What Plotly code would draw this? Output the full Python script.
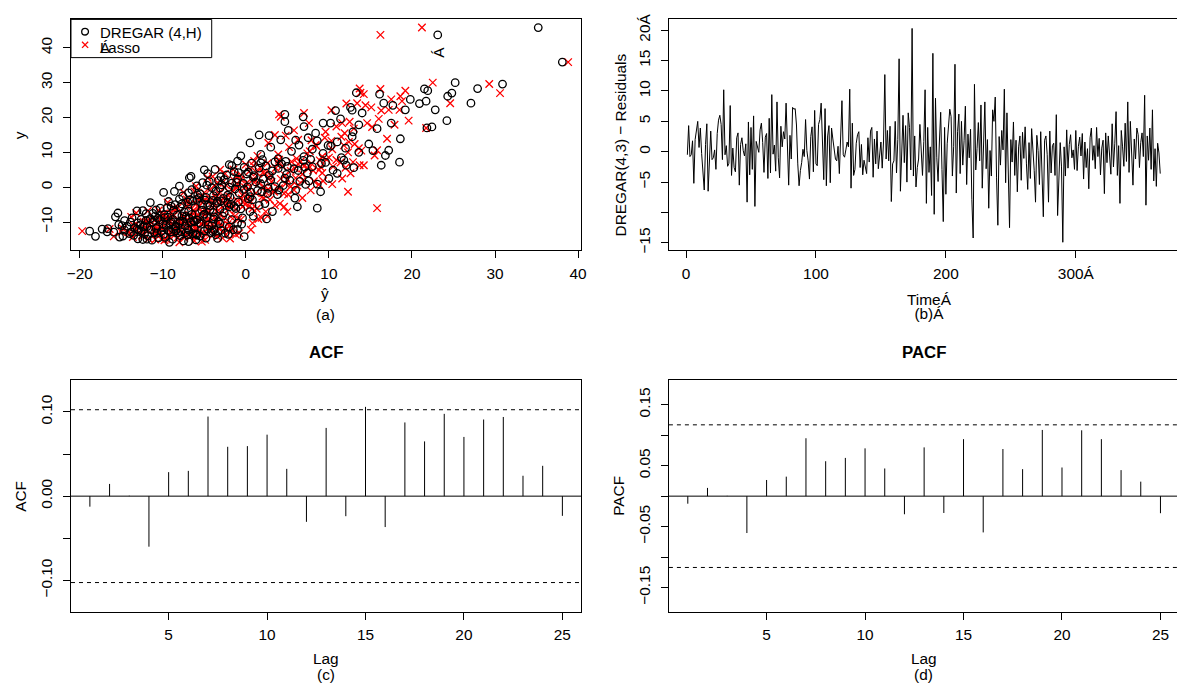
import plotly.graph_objects as go

W, H = 1182, 687
FONT = "Liberation Sans, Arial, sans-serif"
FS = 15.4


def px(x):
    return x / W


def py(y):
    return 1 - y / H


# ---------------- (a) observed y vs fitted y-hat ----------------
y_obs = [
    -15.8, -15.4, -15.1, -14.9, -14.8, -14.6, -14.5, -14.3, -14.2, -14.1,
    -14.0, -13.9, -13.8, -13.7, -13.6, -13.5, -13.4, -13.3, -13.3, -13.2,
    -13.1, -13.0, -13.0, -12.9, -12.8, -12.8, -12.7, -12.6, -12.6, -12.5,
    -12.4, -12.4, -12.3, -12.3, -12.2, -12.2, -12.1, -12.0, -12.0, -12.0,
    -15.6, -15.2, -14.7, -14.4, -14.0, -13.7, -13.5, -13.2, -13.0, -12.9,
    -12.7, -12.5, -12.3, -12.1, -14.9, -13.4, -12.8, -12.2, -15.0, -13.9,
    -11.9, -11.8, -11.7, -11.6, -11.5, -11.4, -11.3, -11.2, -11.1, -11.0,
    -10.9, -10.8, -10.7, -10.6, -10.5, -10.4, -10.3, -10.2, -10.1, -10.0,
    -9.9, -9.8, -9.7, -9.6, -9.5, -9.4, -9.3, -9.2, -9.1, -9.0,
    -8.9, -8.8, -8.7, -8.6, -8.5, -8.4, -8.3, -8.2, -8.1, -8.0,
    -11.4, -10.6, -9.8, -9.1, -8.7,
    -11.8, -11.3, -10.9, -10.4, -10.0, -9.6, -9.3, -8.9, -8.5, -8.2,
    -11.6, -11.0, -10.2, -9.5, -8.8, -11.2, -10.5, -9.9, -9.2, -8.3,
    -7.9, -7.7, -7.5, -7.3, -7.1, -7.0, -6.8, -6.6, -6.4, -6.2,
    -6.0, -5.8, -5.6, -5.4, -5.2, -5.0, -4.8, -4.6, -4.4, -4.2,
    -4.0, -3.8, -3.6, -3.4, -3.2, -3.0, -7.4, -6.9, -6.3, -5.9,
    -5.5, -5.1, -4.7, -4.3, -3.9, -3.5, -3.1, -6.7, -4.9, -3.7,
    -6.0, -1.3, -5.6,
    -7.8, -7.2, -6.5, -6.1, -5.7, -5.3, -4.5, -4.1, -3.3, -7.6,
    -6.6, -5.0, -4.0, -3.6, -7.0,
    -2.9, -2.7, -2.5, -2.3, -2.1, -1.9, -1.7, -1.5, -1.3, -1.1,
    -0.9, -0.7, -0.5, -0.3, -0.1, 0.1, 0.3, 0.5, 0.7, 0.9,
    1.1, 1.3, 1.5, 1.7, 1.9, 2.1, 2.3, 2.5, 2.7, 2.9,
    -2.4, -1.6, -0.8, 0.0, 0.8, 1.6, 2.4, -1.0, 1.2, 2.0,
    -2.8, -2.2, -1.8, -1.2, -0.6, -0.2, 0.2, 0.6, 1.0, 1.4,
    1.8, 2.2, 2.6, -1.4, 0.4,
    3.1, 3.3, 3.5, 3.7, 3.9, 4.1, 4.3, 4.5, 4.7, 4.9,
    5.1, 5.3, 5.5, 5.7, 5.9, 6.1, 6.3, 6.5, 6.7, 6.9,
    7.1, 7.3, 7.5, 7.7, 7.9, 3.0, 4.0, 5.0, 6.0, 7.0,
    8.0, 5.6, 6.3, 7.2,
    3.4, 4.2, 4.8, 5.4, 6.2, 6.8, 7.4, 7.8, 3.8, 5.8,
    8.2, 8.5, 8.8, 9.1, 9.4, 9.7, 10.0, 10.3, 10.6, 10.9,
    11.2, 11.5, 11.8, 12.1, 12.4, 12.7, 13.0, 13.3, 13.6, 13.9,
    14.2, 14.5, 14.8, 9.0, 10.5, 12.0, 13.5, 15.0,
    15.5, 15.9, 16.3, 16.8, 17.0, 17.3, 17.4, 17.9, 18.4, 18.4,
    18.4, 18.8, 19.1, 19.6, 20.2, 20.9, 21.3, 22.0, 22.1, 22.2,
    22.2, 22.9, 23.5, 24.0, 24.1, 24.1, 24.7, 25.2, 26.1, 26.7,
    27.0, 27.1, 27.7, 28.2, 28.3,
    29.6, 30.0, 35.9, 43.7, 45.8,
]

yhat_dregar = [
    -9.2, -7.5, -6.0, -8.8, -13.0, -4.8, -10.5, -15.2, -0.2, -18.1,
    -5.5, -11.8, -13.5, -7.0, -3.6, -9.9, -12.2, -14.0, -6.4, -2.5,
    -8.2, -11.0, -4.2, -13.8, -16.7, -7.8, -10.2, -18.8, -5.0, -12.6,
    -9.3, -3.0, -14.6, -6.9, -11.4, -1.5, -8.7, -17.3, -13.1, -4.6,
    -6.9, -11.3, -3.4, -9.7, -14.8, -5.9, -2.1, -10.7, -7.2, -15.9,
    -4.0, -8.4, -12.9, -1.0, -11.9, -6.0, -9.0, -3.8, -12.4, -7.9,
    -16.6, -10.8, -6.2, -13.4, -8.5, -2.0, -11.9, -14.3, -7.3, -4.1,
    -9.6, -12.7, -15.3, -5.4, -10.0, -8.0, -1.0, -13.0, -6.6, -11.2,
    -9.0, -3.3, -7.9, -14.6, -12.0, -5.9, -10.4, -8.8, 2.5, -11.5,
    -6.8, -13.7, -4.7, -9.4, -15.7, -7.2, -2.8, -10.9, -5.1, -8.3,
    -12.4, -0.5, -7.6, -3.9, -9.8,
    -7.0, -12.2, -4.5, -9.1, -13.9, -6.3, -1.7, -10.6, -3.8, -7.7,
    -9.9, -14.9, -5.6, -11.0, -0.4, -8.4, -3.1, -6.2, -12.6, 0.9,
    -9.8, -5.0, -11.2, -2.6, -7.4, 3.2, -13.1, -8.7, -4.3, -0.6,
    -10.3, -6.1, -2.0, -9.0, 1.6, -5.2, -7.7, -3.5, -11.5, -0.9,
    -6.4, -4.0, 0.8, -8.0, -2.7, -5.6, -15.4, -6.9, -3.1, -9.5,
    -1.4, -4.6, 2.3, -7.0, -3.0, -5.9, 5.9, -12.4, -1.8, -4.9,
    8.6, 9.0, 6.2,
    -6.5, -3.9, -10.8, -1.2, -7.9, -4.3, -2.2, -9.3, 0.3, -12.0,
    -5.3, -8.5, -3.4, -6.7, 0.5,
    -4.8, 0.5, -7.6, -2.2, 3.8, -5.5, -0.8, -9.9, 1.9, -3.6,
    6.0, -6.5, -1.3, 2.7, -4.1, 0.2, -8.0, 4.5, -2.9, 8.6,
    -0.3, -5.2, 1.2, 6.5, -3.3, 3.0, -1.0, 10.0, -6.8, 0.9,
    -3.9, -6.9, 4.0, -2.0, 7.2, -4.4, 2.1, 1.4, -1.7, 5.3,
    -1.9, -5.8, 2.6, -8.6, -0.2, -3.1, 3.5, -4.7, 1.8, -1.1,
    7.6, -2.6, 4.7, 0.6, -5.9,
    -6.6, 1.0, -2.3, 4.9, -4.6, 7.4, 0.3, -1.4, 3.2, 10.5,
    -3.7, 5.8, 1.6, -0.2, 8.0, 2.4, 12.1, -2.0, 4.3, 0.7,
    9.6, 3.5, -1.0, 6.9, 2.0, -3.0, 11.0, -5.0, 5.0, 1.8,
    7.8, 13.0, 16.3, 18.5,
    2.8, -0.9, 6.3, 3.9, -1.7, 9.1, 4.8, 11.8, 0.1, 7.1,
    3.9, 11.5, 7.0, 16.8, 1.8, 9.3, 13.6, 5.5, 17.2, 8.0,
    12.0, 3.0, 10.2, 6.4, 14.8, 0.5, 11.0, 8.6, 4.2, 18.6,
    7.5, 12.8, 2.8, -0.6, 15.3, 9.9, 6.0, 1.6,
    8.4, 12.9, 5.1, 15.8, 21.8, 22.4, 7.0, 13.6, 9.3, 10.2,
    17.5, 4.7, 24.2, 11.4, 6.9, 4.7, 14.0, 10.8, 12.8, 19.2,
    22.8, 12.6, 17.7, 20.9, 16.6, 27.1, 21.7, 19.8, 24.3, 16.1,
    24.8, 13.3, 21.9, 21.5, 27.9,
    30.9, 25.2, 38.1, 23.1, 35.2,
]

yhat_lasso = [
    -8.0, -6.2, -4.9, -9.6, -11.7, -2.8, -7.4, -13.6, -3.4, -15.9,
    -6.7, -9.3, -12.5, -5.6, -1.2, -8.5, -10.8, -13.9, -3.7, -0.8,
    -7.0, -12.8, -5.8, -11.0, -15.0, -9.1, -6.5, -19.7, -2.0, -10.6,
    -8.8, -4.4, -12.1, -7.9, -13.3, 0.6, -6.0, -16.4, -11.9, -3.2,
    -5.3, -9.8, -1.9, -8.2, -12.4, -7.3, -3.9, -9.0, -5.1, -14.1,
    -2.7, -10.4, -11.0, -2.4, -10.2, -4.7, -7.6, -1.6, -10.9, -6.6,
    -14.8, -9.5, -4.5, -12.2, -10.1, -3.8, -8.3, -12.9, -6.1, -1.9,
    -7.7, -11.6, -13.2, -7.1, -8.9, -5.3, 0.8, -10.7, -4.9, -9.2,
    -12.3, -5.0, -6.4, -11.9, -9.9, -3.5, -8.1, -10.3, 1.5, -9.0,
    -5.5, -11.1, -2.6, -7.5, -13.8, -6.0, -1.3, -8.7, -4.0, -10.0,
    -10.9, -2.2, -5.7, -0.9, -7.3,
    -5.9, -10.4, -2.9, -7.8, -12.0, -8.0, -0.6, -9.4, -1.8, -6.6,
    -8.3, -13.5, -3.4, -9.6, 1.9, -6.9, -4.6, -4.3, -10.8, 2.6,
    -7.6, -3.2, -9.0, -4.5, -5.3, 5.0, -11.8, -6.3, -2.1, 1.3,
    -8.6, -4.0, -0.4, -7.2, 3.5, -3.1, -6.0, -1.7, -9.4, 0.6,
    -4.4, -2.2, 2.9, -5.8, -0.5, -3.6, -13.2, -4.8, -1.2, -8.2,
    0.4, -2.5, 4.1, -5.2, -1.0, -7.1, 6.8, -10.5, -0.1, -3.0,
    15.8, 12.3, 4.6,
    -4.9, -6.1, -8.7, 0.8, -5.7, -2.0, -3.9, -7.0, 2.1, -9.9,
    -3.3, -6.8, -0.2, -4.9, 2.4,
    -2.5, 2.0, -5.4, -0.4, 5.1, -3.2, 1.2, -7.5, 3.4, -1.6,
    7.8, -4.3, 0.3, 4.0, -2.6, 2.2, -6.0, 6.2, -1.0, 10.4,
    1.6, -3.4, 3.1, 8.2, -1.4, 5.0, 0.9, 11.6, -4.6, 2.8,
    -2.1, -5.0, 5.8, -0.1, 8.8, -2.7, 4.2, 3.3, 0.1, 6.9,
    0.4, -3.7, 4.6, -6.2, 2.7, -1.1, 5.4, -2.4, 4.8, 1.0,
    9.3, -0.6, 6.0, 2.4, -3.8,
    -4.0, 3.0, -0.6, 6.8, -2.5, 9.2, 2.1, 0.4, 5.4, 8.8,
    -1.5, 7.5, 3.6, 1.7, 10.5, 4.4, 14.2, 0.0, 6.3, 2.6,
    11.4, 5.5, 1.0, 8.9, 4.0, -1.2, 12.6, -3.1, 7.0, 3.9,
    9.7, 12.0, 13.7, 12.9,
    4.7, 1.3, 8.1, 5.9, 0.9, 7.9, 6.6, 10.9, 2.2, 9.0,
    6.1, 10.0, 9.2, 15.5, 3.9, 7.4, 12.3, 7.7, 15.8, 10.4,
    13.6, 5.2, 8.5, 8.4, 13.1, 2.7, 12.4, 10.3, 6.3, 17.0,
    9.5, 11.5, 4.8, 1.4, 13.9, 11.8, 7.9, 3.5,
    11.9, 9.6, 5.8, 13.0, 21.7, 15.2, 10.9, 17.9, 7.6, 11.6,
    14.6, 12.5, 19.6, 16.0, 4.2, 4.0, 7.0, 16.3, 10.3, 18.5,
    17.2, 15.1, 14.4, 12.1, 13.4, 24.6, 18.8, 17.5, 18.6, 14.2,
    30.6, 13.8, 19.2, 16.2, 13.7,
    29.3, 22.5, 38.8, 16.2, 21.2,
]

# ---------------- (b) DREGAR(4,3) residuals over time ----------------
residuals = [
    -0.5, 4.3, -0.8, -0.5, 1.8, -5.2, 2.0, 3.5, 5.0, 0.7, 3.9, -0.3, -3.0, -6.3, 1.2, 4.6, -6.5, -1.0, 3.4, -1.3, -1.0, 0.3, -2.9, 3.0, 5.2,
    6.0, 4.5, -1.3, 10.2, -0.5, 1.0, -2.4, -1.9, 7.6, -3.9, 0.6, -2.6, -3.3, 2.3, 3.1, -5.5, 1.2, 2.3, 0.2, -0.7, 1.3, -8.3, 4.9, -3.8, 4.0,
    -2.9, 5.9, -9.0, 1.7, 0.8, -0.1, 3.6, 4.7, 1.5, -3.4, 2.4, 3.0, -4.4, 5.5, -3.5, 9.4, -0.4, 1.1, -3.2, 8.2, -1.0, -4.3, 4.2, 0.8, 3.3,
    2.1, 8.0, -1.4, -5.5, 2.7, -1.2, 7.3, 7.0, 7.1, 4.4, -2.0, -5.6, -3.1, -1.8, 0.4, -0.8, 5.3, 0.2, -1.5, -4.5, 2.5, 4.1, -3.3, 6.8, -2.0,
    -2.3, 4.5, 5.3, 8.0, -0.4, -4.6, 7.1, -5.6, 2.6, 4.3, -5.1, 3.9, 2.1, 0.7, -1.2, -1.5, 0.9, -3.6, 3.1, 8.4, -0.5, -0.9, 0.3, 1.6, 0.8,
    10.3, -6.0, 4.7, -3.9, -2.9, 1.4, 2.8, 3.3, -2.6, 1.2, -3.8, -1.4, -2.6, -3.6, 2.3, -1.7, 3.4, 4.0, -4.2, 2.1, -2.0, 3.4, -2.8, -0.5, 1.6,
    -2.7, 1.6, 12.7, -1.2, 3.5, -1.5, 4.2, -8.2, -2.0, -1.5, 5.0, -3.5, 2.0, 15.3, -6.5, 1.8, 6.0, -1.8, 4.3, -5.0, 6.4, 4.0, -3.0, 20.3, -4.0,
    2.6, -5.8, -2.6, -1.2, 4.5, 1.0, -3.9, 1.7, 10.2, -8.5, 4.0, -3.4, 0.8, -7.2, 16.2, -10.3, 8.8, -1.0, -4.9, 1.6, 6.5, -2.9, -11.5, 4.0, -7.0,
    1.3, 3.8, 7.0, 5.8, -4.0, 0.9, 14.4, -6.8, 3.3, 6.2, -3.6, 5.0, -2.2, 1.8, 7.5, -5.4, 2.9, -1.0, 3.7, -7.9, -14.2, 11.1, -3.0, 0.5, 4.8,
    -1.5, 7.7, -6.0, 3.9, 8.2, -2.8, 2.0, -9.3, 0.2, -4.0, 6.9, 5.0, 9.0, -4.3, -12.1, 2.5, -2.2, 3.5, 0.3, 10.3, -5.1, 6.4, -3.0, -12.5, 2.0,
    -1.7, 4.9, -3.9, 1.9, -6.6, 0.8, 2.6, -4.7, 3.2, -1.1, 4.1, -2.0, -6.2, 1.5, -4.4, 3.8, 0.6, -3.1, -8.3, 2.7, 0.2, -5.4, 3.3, -4.4, -10.7,
    1.9, 2.6, -0.5, -8.3, 3.4, -3.5, 1.0, 1.4, -3.9, 6.1, -10.5, -2.2, 1.5, -2.5, -14.9, 0.8, -4.0, 3.6, -2.7, 1.2, 2.8, -1.0, 0.3, -2.9, 3.5,
    -3.1, 0.9, 2.4, -0.7, 3.0, -4.5, 1.6, -2.6, 0.5, -6.1, 2.3, 3.9, -1.4, 1.0, -2.8, 4.0, -0.8, 2.2, -3.8, 0.6, 1.9, -6.9, 3.1, -1.8, 2.6,
    0.1, -3.7, 4.6, -2.5, 1.3, 6.6, -3.9, 1.0, -8.5, 3.5, 0.8, -2.4, 4.7, -1.6, 8.2, -3.4, 5.0, 0.4, -5.5, 2.1, -1.2, 3.9, 2.8, -2.6, 1.5,
    3.1, -0.8, 9.3, -8.8, 2.6, -1.4, 3.9, -2.9, 6.9, -4.8, 0.5, -5.7, 1.4, -0.2, -3.6,
]
time_index = list(range(1, len(residuals) + 1))

# ---------------- (c) ACF and (d) PACF ----------------
lags = list(range(1, 26))
acf_values = [
    -0.0125, 0.0145, 0.0005, -0.060, 0.0285, 0.030, 0.0945, 0.0586, 0.0594, 0.073,
    0.0324, -0.0305, 0.081, -0.0238, 0.106, -0.0367, 0.0875, 0.065, 0.0977, 0.0703,
    0.091, 0.094, 0.0242, 0.036, -0.0234,
]
pacf_values = [
    -0.0124, 0.0135, 0.0005, -0.0605, 0.0265, 0.032, 0.095, 0.0573, 0.0627, 0.0784,
    0.0454, -0.0297, 0.080, -0.0276, 0.0935, -0.0595, 0.0773, 0.0443, 0.1086, 0.047,
    0.108, 0.0935, 0.0427, 0.0238, -0.028,
]
acf_ci = 0.1026
pacf_ci = 0.117

# tick labels
a_xticks = [-20, -10, 0, 10, 20, 30, 40]
a_yticks = [-10, 0, 10, 20, 30, 40]
b_xticks = [0, 100, 200, 300]
b_xticktext = ["0", "100", "200", "300Á"]
b_yticks = [-15, -10, -5, 0, 5, 10, 15, 20]
b_yticktext = ["\u221215", "", "\u22125", "0", "5", "10", "15", "20Á"]
lag_ticks = [5, 10, 15, 20, 25]
acf_yticks = [-0.10, -0.05, 0.0, 0.05, 0.10]
acf_yticktext = ["\u22120.10", "", "0.00", "", "0.10"]
pacf_yticks = [-0.15, -0.10, -0.05, 0.0, 0.05, 0.10, 0.15]
pacf_yticktext = ["\u22120.15", "", "\u22120.05", "", "0.05", "", "0.15"]


def stems(xs, ys):
    sx, sy = [], []
    for a, b in zip(xs, ys):
        sx += [a, a, None]
        sy += [0, b, None]
    return sx, sy


fig = go.Figure()

fig.add_trace(go.Scatter(
    x=yhat_lasso, y=y_obs, mode="markers", name="Lasso",
    marker=dict(symbol="x-thin-open", size=7.5, color="red",
                line=dict(width=1.3, color="red")),
    xaxis="x", yaxis="y", showlegend=False))
fig.add_trace(go.Scatter(
    x=yhat_dregar, y=y_obs, mode="markers", name="DREGAR (4,H)",
    marker=dict(symbol="circle-open", size=7.5, color="black",
                line=dict(width=1.3, color="black")),
    xaxis="x", yaxis="y", showlegend=False))

fig.add_trace(go.Scatter(
    x=time_index, y=residuals, mode="lines",
    line=dict(color="black", width=1), xaxis="x2", yaxis="y2", showlegend=False))

sx, sy = stems(lags, acf_values)
fig.add_trace(go.Scatter(x=sx, y=sy, mode="lines", line=dict(color="black", width=1),
                         xaxis="x3", yaxis="y3", showlegend=False))
sx, sy = stems(lags, pacf_values)
fig.add_trace(go.Scatter(x=sx, y=sy, mode="lines", line=dict(color="black", width=1),
                         xaxis="x4", yaxis="y4", showlegend=False))

TOP1, BOT1 = 13.6, 247.7
TOP2, BOT2 = 379.3, 614.0
L1, R1 = 67.5, 581.7
L2 = 670.0

tickfont = dict(family=FONT, size=FS, color="black")
base = dict(showline=True, linecolor="black", linewidth=1, ticks="outside",
            ticklen=7, tickwidth=1, tickcolor="black", showgrid=False,
            zeroline=False, tickfont=tickfont, tickmode="array")

fig.update_layout(
    width=W, height=H,
    margin=dict(l=0, r=0, t=0, b=0),
    paper_bgcolor="white", plot_bgcolor="white",
    showlegend=False,
    xaxis=dict(base, domain=[px(L1), px(R1)], range=[-21.05, 40.38],
               tickvals=a_xticks, mirror=True, anchor="y", ticklabelstandoff=2),
    yaxis=dict(base, domain=[py(BOT1), py(TOP1)], range=[-18.14, 48.14],
               tickvals=a_yticks, tickangle=-90, mirror=True, anchor="x",
               ticklabelstandoff=5),
    xaxis2=dict(base, domain=[px(L2), 1.0], range=[-13.2, 377.9],
                tickvals=b_xticks, ticktext=b_xticktext, mirror=True, anchor="y2",
                ticklabelstandoff=2),
    yaxis2=dict(base, domain=[py(BOT1), py(TOP1)], range=[-16.25, 21.78],
                tickvals=b_yticks, ticktext=b_yticktext, tickangle=-90,
                mirror=False, anchor="x2", ticklabelstandoff=5),
    xaxis3=dict(base, domain=[px(L1), px(R1)], range=[0.04, 25.96],
                tickvals=lag_ticks, mirror=True, anchor="y3", ticklabelstandoff=2),
    yaxis3=dict(base, domain=[py(BOT2), py(TOP2)], range=[-0.1375, 0.1375],
                tickvals=acf_yticks, ticktext=acf_yticktext, tickangle=-90,
                mirror=True, anchor="x3", ticklabelstandoff=5),
    xaxis4=dict(base, domain=[px(L2), 1.0], range=[0.04, 25.84],
                tickvals=lag_ticks, mirror=True, anchor="y4", ticklabelstandoff=2),
    yaxis4=dict(base, domain=[py(BOT2), py(TOP2)], range=[-0.19, 0.19],
                tickvals=pacf_yticks, ticktext=pacf_yticktext, tickangle=-90,
                mirror=False, anchor="x4", ticklabelstandoff=5),
)

shapes = []
for xr, yr, ci in (("x3", "y3", acf_ci), ("x4", "y4", pacf_ci)):
    shapes.append(dict(type="line", xref=f"{xr} domain", yref=yr, x0=0, x1=1,
                       y0=0, y1=0, line=dict(color="black", width=1)))
    for s in (ci, -ci):
        shapes.append(dict(type="line", xref=f"{xr} domain", yref=yr, x0=0, x1=1,
                           y0=s, y1=s, line=dict(color="black", width=1, dash="4px,4px")))

# legend box of panel (a)
shapes.append(dict(type="rect", xref="paper", yref="paper",
                   x0=px(L1), x1=px(209.3), y0=py(52.3), y1=py(TOP1),
                   line=dict(color="black", width=1), fillcolor="white", layer="above"))
shapes.append(dict(type="circle", xref="paper", yref="paper",
                   x0=px(78.3), x1=px(85.1), y0=py(29.4), y1=py(22.6),
                   line=dict(color="black", width=1.3), layer="above"))
shapes.append(dict(type="line", xref="paper", yref="paper",
                   x0=px(78.6), x1=px(84.8), y0=py(36.2), y1=py(42.4),
                   line=dict(color="red", width=1.3), layer="above"))
shapes.append(dict(type="line", xref="paper", yref="paper",
                   x0=px(78.6), x1=px(84.8), y0=py(42.4), y1=py(36.2),
                   line=dict(color="red", width=1.3), layer="above"))
fig.update_layout(shapes=shapes)


def ann(text, x, y, size=FS, angle=0, xanchor="center"):
    return dict(text=text, x=px(x), y=py(y), xref="paper", yref="paper",
                showarrow=False, textangle=angle, xanchor=xanchor, yanchor="middle",
                font=dict(family=FONT, size=size, color="black"))


# two-line caption with tight line spacing (line pitch follows the base size)
tight = ann("<span style='font-size:%.1fpx'>TimeÁ</span><br>"
            "<span style='font-size:%.1fpx'>(b)Á</span>" % (FS, FS),
            932.5, 304.7, size=10.8)

annotations = [
    ann("DREGAR (4,H)", 95.0, 26.5, size=15, xanchor="left"),
    ann("Lasso", 95.0, 42.0, size=15, xanchor="left"),
    ann("Á", 95.0, 42.0, size=15, xanchor="left"),
    ann("Á", 437.0, 46.7, angle=-90),
    ann("ŷ", 323.5, 291.5),
    ann("(a)", 323.5, 312.3),
    ann("y", 16.5, 130.7, angle=-90),
    ann("DREGAR(4,3) \u2212 Residuals", 621.0, 141.0, angle=-90),
    tight,
    ann("<b>ACF</b>", 324.5, 351.0, size=16.8),
    ann("Lag", 324.5, 661.0),
    ann("(c)", 324.5, 677.0),
    ann("ACF", 16.7, 496.7, angle=-90),
    ann("<b>PACF</b>", 927.0, 351.0, size=16.8),
    ann("Lag", 927.0, 661.0),
    ann("(d)", 927.0, 677.0),
    ann("PACF", 619.3, 496.7, angle=-90),
]
fig.update_layout(annotations=annotations)

fig.write_html("out.html")
